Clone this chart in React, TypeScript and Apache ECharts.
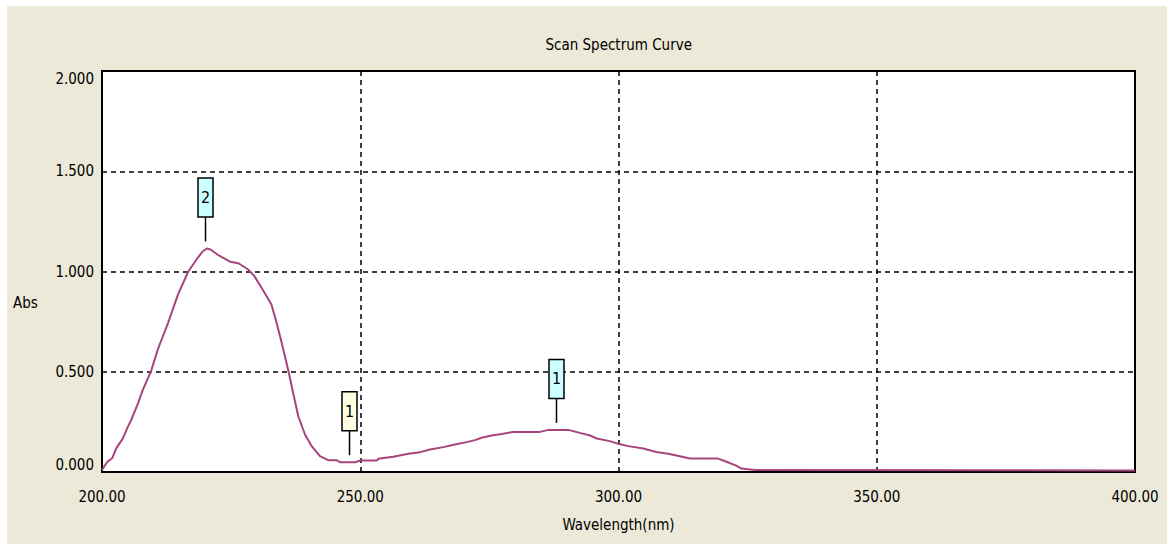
import React, { useEffect, useRef } from "react";
import * as echarts from "echarts";

const FONT = '"Liberation Sans Narrow", "DejaVu Sans Condensed", "Arial Narrow", sans-serif';

const wavelengths = [
  200.0, 201.0, 202.0, 202.8, 204.0, 205.0, 205.7, 207.0, 207.9, 209.5, 210.8, 212.8,
  214.7, 216.7, 218.3, 219.5, 220.3, 221.0, 222.6, 224.7, 226.5, 228.3, 229.5, 231.1,
  232.8, 233.8, 234.8, 236.1, 237.0, 238.0, 239.3, 240.6, 242.2, 243.8, 245.4, 246.1,
  249.0, 250.0, 253.2, 253.5, 256.4, 259.3, 261.6, 263.5, 266.1, 268.3, 270.6, 272.2,
  273.5, 275.4, 277.4, 279.6, 284.8, 286.4, 290.3, 292.5, 294.5, 295.8, 298.3, 300.1,
  301.9, 304.8, 307.3, 309.6, 311.9, 313.8, 319.3, 320.9, 322.8, 323.8, 326.4, 400.0,
];
const absorbance = [
  0.01, 0.05, 0.07, 0.12, 0.165, 0.225, 0.262, 0.345, 0.41, 0.503, 0.611, 0.744,
  0.885, 1.0, 1.06, 1.1, 1.115, 1.11, 1.08, 1.05, 1.04, 1.01, 0.977, 0.91,
  0.835, 0.744, 0.644, 0.503, 0.395, 0.278, 0.187, 0.129, 0.079, 0.059, 0.059, 0.049,
  0.049, 0.057, 0.057, 0.066, 0.076, 0.091, 0.099, 0.112, 0.124, 0.137, 0.149, 0.159,
  0.171, 0.182, 0.19, 0.2, 0.2, 0.21, 0.21, 0.195, 0.182, 0.167, 0.154, 0.14,
  0.129, 0.117, 0.1, 0.091, 0.079, 0.067, 0.067, 0.051, 0.032, 0.017, 0.01, 0.008,
];

const markerWl = [220.0, 247.9, 287.9];
const markerAbs = [1.115, 0.049, 0.21];
const markerLabels = ["2", "1", "1"];
const markerKinds = ["peak", "valley", "peak"];

const xMin = 200;
const xMax = 400;
const xStep = 50;
const yMin = 0;
const yMax = 2;
const yStep = 0.5;

export default function App() {
  const ref = useRef<HTMLDivElement>(null);

  useEffect(() => {
    if (!ref.current) return;
    const chart = echarts.init(ref.current, null, { renderer: "svg" });
    const lineData = wavelengths.map((w, i) => [w, absorbance[i]]);
    const markerData = markerWl.map((w, i) => [w, markerAbs[i]]);
    const textStyle = { fontFamily: FONT, fontSize: 15, color: "#000", fontWeight: "normal" as const };

    chart.setOption({
      animation: false,
      backgroundColor: "#ECE9D8",
      title: {
        text: "Scan Spectrum Curve",
        left: 611.7,
        top: 31,
        padding: 0,
        textAlign: "center",
        textStyle,
      },
      grid: {
        left: 95,
        top: 65,
        width: 1033,
        height: 401,
        show: true,
        backgroundColor: "#fff",
        borderColor: "#000",
        borderWidth: 2,
      },
      xAxis: {
        type: "value",
        min: xMin,
        max: xMax,
        interval: xStep,
        name: "Wavelength(nm)",
        nameLocation: "middle",
        nameGap: 45,
        nameTextStyle: textStyle,
        axisLine: { show: true, lineStyle: { color: "#000", width: 2 } },
        axisTick: { show: false },
        axisLabel: { ...textStyle, margin: 17, formatter: (v: number) => v.toFixed(2) },
        splitLine: { show: true, lineStyle: { color: "#000", type: [5, 4], width: 1.5 } },
      },
      yAxis: {
        type: "value",
        min: yMin,
        max: yMax,
        interval: yStep,
        axisLine: { show: true, lineStyle: { color: "#000", width: 2 } },
        axisTick: { show: false },
        axisLabel: {
          ...textStyle,
          margin: 8,
          formatter: (v: number) => v.toFixed(3),
          verticalAlignMinLabel: "bottom",
          verticalAlignMaxLabel: "top",
        },
        splitLine: { show: true, lineStyle: { color: "#000", type: [5, 4], width: 1.5 } },
      },
      graphic: [
        {
          type: "text",
          left: 6,
          top: 289,
          style: { text: "Abs", font: `15px ${FONT}`, fill: "#000" },
        },
      ],
      series: [
        {
          type: "line",
          data: lineData,
          showSymbol: false,
          symbol: "none",
          lineStyle: { color: "#A8447C", width: 2 },
          z: 3,
        },
        {
          type: "custom",
          data: markerData,
          z: 4,
          clip: false,
          renderItem: (params: any, api: any) => {
            const p = api.coord([api.value(0), api.value(1)]);
            const i = params.dataIndex;
            const fill = markerKinds[i] === "peak" ? "#CCFFFF" : "#FFFFE1";
            const gap = 7;
            const stem = 24.5;
            const bw = 15;
            const bh = 39;
            const x = Math.round(p[0]) + 0.5;
            const yBottom = p[1] - gap;
            const yTop = yBottom - stem;
            return {
              type: "group",
              children: [
                {
                  type: "line",
                  shape: { x1: x, y1: yBottom, x2: x, y2: yTop },
                  style: { stroke: "#000", lineWidth: 1.5 },
                },
                {
                  type: "rect",
                  shape: { x: x - bw / 2, y: yTop - bh, width: bw, height: bh },
                  style: { fill, stroke: "#000", lineWidth: 1.5 },
                },
                {
                  type: "text",
                  x: x,
                  y: yTop - bh / 2,
                  style: {
                    text: markerLabels[i],
                    font: `16px ${FONT}`,
                    fill: "#000",
                    align: "center",
                    verticalAlign: "middle",
                  },
                },
              ],
            };
          },
        },
      ],
    });

    return () => {
      chart.dispose();
    };
  }, []);

  return (
    <div style={{ position: "fixed", left: 0, top: 0, width: 1167, height: 544, background: "#fff" }}>
      <div ref={ref} style={{ position: "absolute", left: 7, top: 6, width: 1160, height: 538 }} />
    </div>
  );
}
